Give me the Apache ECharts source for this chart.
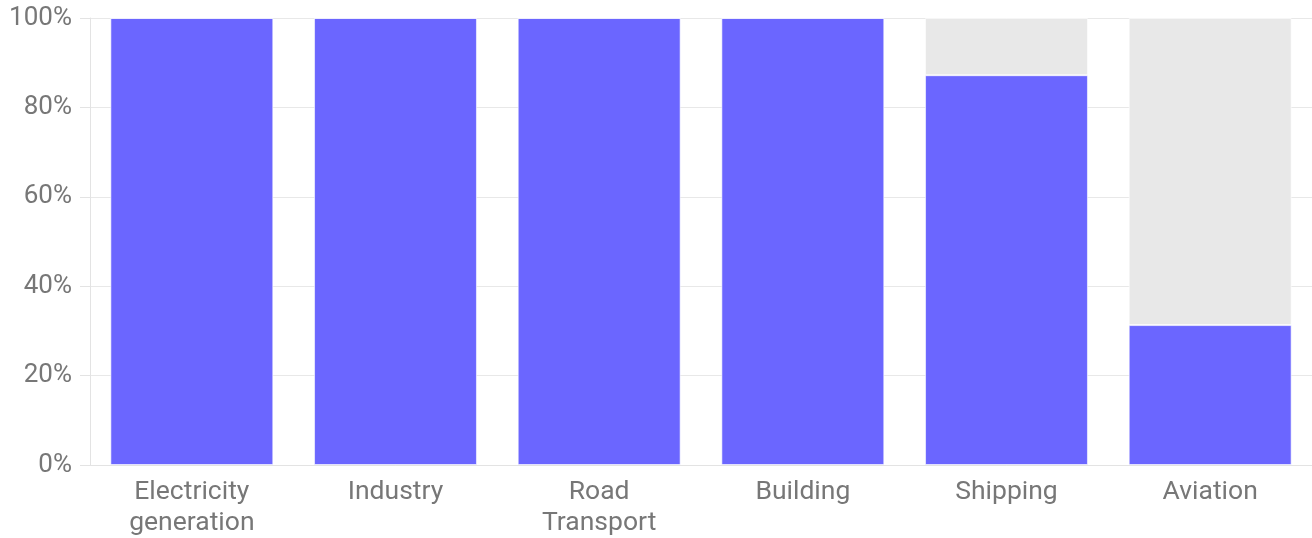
<!DOCTYPE html>
<html>
<head>
<meta charset="utf-8">
<style>
  html, body { margin: 0; padding: 0; background: #fff; }
  #chart { width: 1312px; height: 538px; }
</style>
<script src="https://cdn.jsdelivr.net/npm/echarts@6/dist/echarts.min.js"></script>
</head>
<body>
<div id="chart"></div>
<script>
const categories = ['Electricity\ngeneration', 'Industry', 'Road\nTransport', 'Building', 'Shipping', 'Aviation']
const covered = [100, 100, 100, 100, 87.2, 31.3]
const remaining = covered.map(v => +(100 - v).toFixed(1))
const yTicks = [0, 20, 40, 60, 80, 100]

const chart = echarts.init(document.getElementById('chart'))

chart.setOption({
  animation: false,
  textStyle: { fontFamily: 'Roboto' },
  grid: {
    top: 18,
    left: 90,
    right: 0,
    bottom: 73,
    outerBoundsMode: 'none'
  },
  xAxis: {
    type: 'category',
    data: categories,
    axisLine: { lineStyle: { color: '#e3e3e3' } },
    axisTick: { alignWithLabel: true, length: 12, lineStyle: { color: '#e3e3e3' } },
    axisLabel: {
      color: '#777',
      fontSize: 26.5,
      lineHeight: 31,
      margin: 12
    }
  },
  yAxis: {
    type: 'value',
    min: yTicks[0],
    max: yTicks[yTicks.length - 1],
    interval: 20,
    axisLine: { show: true, lineStyle: { color: '#e3e3e3' } },
    axisTick: { show: true, length: 10, lineStyle: { color: '#e3e3e3' } },
    splitLine: { lineStyle: { color: '#e8e8e8' } },
    axisLabel: {
      color: '#777',
      fontSize: 26,
      margin: 18,
      formatter: '{value}%'
    }
  },
  series: [
    {
      name: 'covered',
      type: 'bar',
      stack: 'total',
      barWidth: '80%',
      data: covered,
      itemStyle: {
        color: '#6b66ff',
        borderColor: 'rgba(255,255,255,0.6)',
        borderWidth: 1
      }
    },
    {
      name: 'remaining',
      type: 'bar',
      stack: 'total',
      data: remaining,
      itemStyle: {
        color: '#e8e8e8',
        borderColor: 'rgba(255,255,255,0.6)',
        borderWidth: 1
      }
    }
  ]
})
</script>
</body>
</html>
